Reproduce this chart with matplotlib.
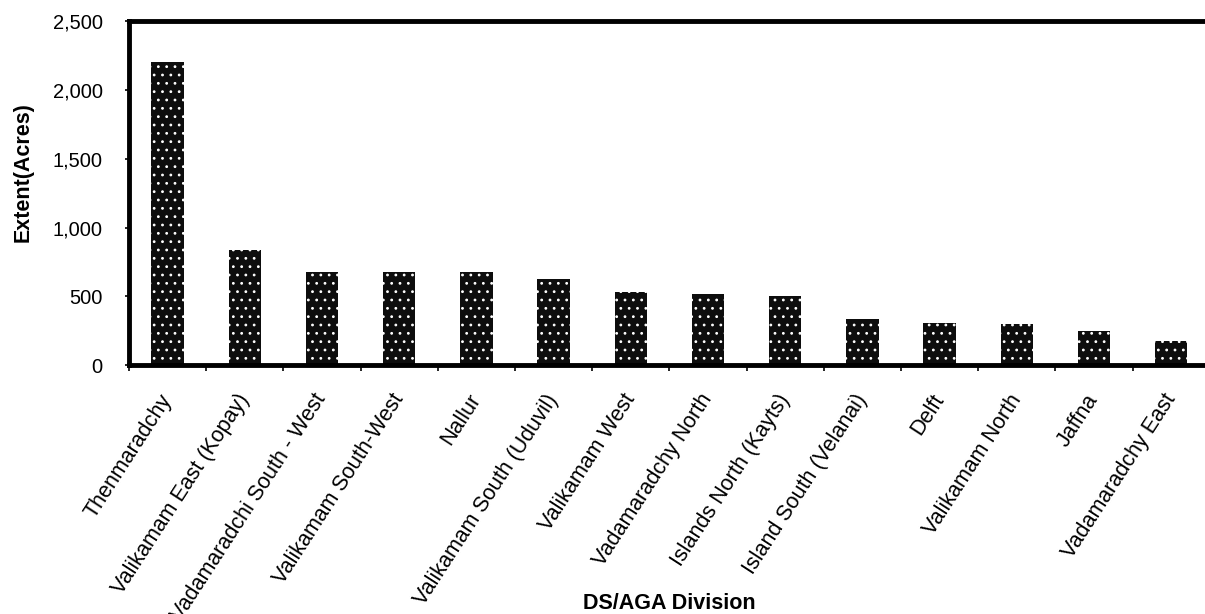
"""Extent of land (acres) by DS/AGA division - bar chart."""

import matplotlib
matplotlib.use("Agg")
import matplotlib.pyplot as plt
from matplotlib.ticker import FuncFormatter, FixedLocator
import numpy as np


# ── data ──────────────────────────────────────────────────────────────────

divisions = [
    "Thenmaradchy",
    "Valikamam East (Kopay)",
    "Vadamaradchi South - West",
    "Valikamam South-West",
    "Nallur",
    "Valikamam South (Uduvil)",
    "Valikamam West",
    "Vadamaradchy North",
    "Islands North (Kayts)",
    "Island South (Velanai)",
    "Delft",
    "Valikamam North",
    "Jaffna",
    "Vadamaradchy East",
]
extent_acres = [2200, 840, 680, 680, 680, 630, 530, 520, 500, 335, 305, 300, 250, 175]
y_ticks = [0, 500, 1000, 1500, 2000, 2500]


# ── style ─────────────────────────────────────────────────────────────────

plt.rcParams["font.family"] = ["Liberation Sans", "DejaVu Sans"]
plt.rcParams["hatch.linewidth"] = 0.8
BAR_COLOR = "#0d0d0d"
SPINE_W = 3.5
LABEL_ANGLE = 57


# ── plot ──────────────────────────────────────────────────────────────────

fig = plt.figure(figsize=(12.05, 6.14), dpi=100)
ax = fig.add_axes([0.107, 0.405, 0.897, 0.561])

x = np.arange(len(divisions))
ax.bar(x, extent_acres, width=0.42, color=BAR_COLOR, linewidth=0, zorder=2)
# speckled texture like the printed original
ax.bar(x, extent_acres, width=0.42, facecolor="none", edgecolor="white",
       hatch="..", linewidth=0, zorder=3)

ax.set_xlim(-0.5, len(divisions) - 0.5)
ax.set_ylim(0, 2500)
ax.set_yticks(y_ticks)
ax.yaxis.set_major_formatter(FuncFormatter(lambda v, _: f"{int(v):,}"))

ax.set_xticks(x)
ax.set_xticklabels(divisions, ha="right", va="center", rotation_mode="anchor")
ax.xaxis.set_minor_locator(FixedLocator(np.arange(-0.5, len(divisions), 1.0)))
ax.tick_params(axis="x", which="major", length=0, pad=22, labelsize=15.5)
ax.tick_params(axis="x", which="minor", length=4, width=1.2, direction="out")
ax.tick_params(axis="y", length=3, width=1.2, direction="out", pad=16, labelsize=14.5)
for lbl in ax.get_xticklabels():
    lbl.set_rotation(LABEL_ANGLE)

for side in ["left", "top", "bottom"]:
    ax.spines[side].set_linewidth(SPINE_W)
    ax.spines[side].set_color("black")
ax.spines["right"].set_visible(False)

ax.set_xlabel("DS/AGA Division", fontsize=15.5, fontweight="bold")
ax.set_ylabel("Extent(Acres)", fontsize=15.5, fontweight="bold")
ax.xaxis.set_label_coords(0.5, -0.662)
ax.yaxis.set_label_coords(-0.088, 0.56)

fig.savefig("out.png", dpi=100)
plt.close(fig)
